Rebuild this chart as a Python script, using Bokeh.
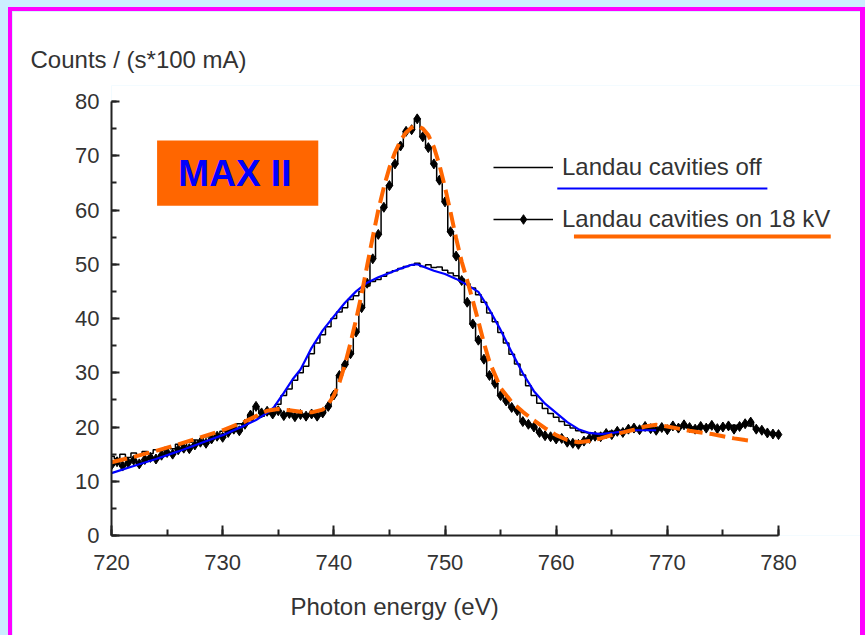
from bokeh.plotting import figure
from bokeh.models import (Range1d, BoxAnnotation, Label, Legend, LegendItem,
                          ColumnDataSource, SingleIntervalTicker, Title)
from bokeh.embed import file_html
from bokeh.resources import INLINE

# ---------------- data ----------------
energy = [720.0, 720.5, 721.0, 721.5, 722.0, 722.5, 723.0, 723.5, 724.0, 724.5,
          725.0, 725.5, 726.0, 726.5, 727.0, 727.5, 728.0, 728.5, 729.0, 729.5,
          730.0, 730.5, 731.0, 731.5, 732.0, 732.5, 733.0, 733.5, 734.0, 734.5,
          735.0, 735.5, 736.0, 736.5, 737.0, 737.5, 738.0, 738.5, 739.0, 739.5,
          740.0, 740.5, 741.0, 741.5, 742.0, 742.5, 743.0, 743.5, 744.0, 744.5,
          745.0, 745.5, 746.0, 746.5, 747.0, 747.5, 748.0, 748.5, 749.0, 749.5,
          750.0, 750.5, 751.0, 751.5, 752.0, 752.5, 753.0, 753.5, 754.0, 754.5,
          755.0, 755.5, 756.0, 756.5, 757.0, 757.5, 758.0, 758.5, 759.0, 759.5,
          760.0, 760.5, 761.0, 761.5, 762.0, 762.5, 763.0, 763.5, 764.0, 764.5,
          765.0, 765.5, 766.0, 766.5, 767.0, 767.5, 768.0, 768.5, 769.0, 769.5,
          770.0, 770.5, 771.0, 771.5, 772.0, 772.5, 773.0, 773.5, 774.0, 774.5,
          775.0, 775.5, 776.0, 776.5, 777.0, 777.5, 778.0, 778.5, 779.0, 779.5,
          780.0]

counts_off = [14.6, 14.2, 15.0, 14.4, 15.2, 14.8, 15.5, 15.1, 15.8, 15.6,
              16.2, 16.0, 16.8, 16.5, 17.2, 17.6, 17.4, 18.2, 18.6, 18.4,
              19.2, 19.6, 20.0, 20.6, 20.4, 21.2, 21.8, 22.0, 22.6, 23.2,
              24.2, 25.8, 27.0, 28.6, 30.0, 31.2, 33.5, 35.5, 37.0, 38.5,
              40.0, 41.2, 42.0, 43.5, 44.2, 45.0, 46.0, 46.8, 47.2, 47.8,
              48.5, 48.8, 49.2, 49.6, 49.8, 50.2, 49.6, 49.9, 49.4, 49.5,
              48.9, 48.4, 47.9, 47.3, 46.4, 45.6, 44.4, 43.0, 41.0, 39.4,
              37.4, 35.5, 33.4, 31.6, 29.6, 27.6, 25.8, 24.4, 23.4, 22.5,
              21.8, 21.0, 20.3, 19.8, 19.3, 19.0, 18.9, 18.6, 18.8, 19.0,
              19.2, 19.0, 19.4, 19.6, 19.3, 19.8, 19.5, 19.9, 19.6, 20.0,
              19.8, 20.2, 19.9, 20.3, 20.0, 19.7, 20.2, 19.9, 20.4, 19.8,
              20.1, 19.9, 20.3, 20.0, 20.5, 20.2, 19.8, 19.5, 19.1, 18.9,
              18.8]

counts_on = [13.0, 13.6, 12.8, 13.4, 13.9, 13.2, 14.0, 14.4, 14.1, 14.8,
             15.3, 15.0, 15.8, 16.1, 16.0, 16.7, 17.2, 17.0, 17.8, 18.3,
             18.1, 19.0, 19.6, 19.3, 20.5, 22.2, 23.8, 22.6, 22.9, 22.4,
             23.0, 22.1, 22.5, 21.9, 22.3, 22.0, 22.4, 22.0, 22.6, 23.8,
             25.9, 29.5, 31.5, 33.5, 37.5, 42.0, 46.5, 51.0, 55.5, 60.5,
             64.5, 68.5, 71.8, 74.5, 74.8, 76.8, 73.5, 71.5, 68.5, 65.5,
             61.5, 56.0, 51.5, 47.0, 43.0, 39.0, 36.0, 32.5, 29.5, 28.0,
             25.8, 24.8, 23.6, 23.0, 21.0, 20.5, 20.0, 19.0, 18.4, 18.2,
             17.8, 17.9, 17.2, 17.0, 16.8, 17.4, 17.9, 18.3, 18.2, 18.8,
             18.6, 19.2, 19.0, 19.6, 19.8, 19.5, 20.1, 19.7, 19.4, 19.9,
             19.5, 20.2, 19.8, 20.4, 19.9, 19.6, 20.1, 19.8, 20.3, 19.7,
             20.0, 20.2, 19.6, 20.1, 20.6, 20.9, 19.6, 19.4, 18.9, 18.7,
             18.6]

fit_off_e = [720, 722, 724, 726, 728, 730, 732, 733, 734, 734.6,
             735.5, 736.3, 737.0, 737.5, 738.0, 739, 740, 741, 742, 743,
             744, 745, 746, 747, 747.5, 748, 749, 750, 751, 752,
             753, 753.6, 754, 755, 756, 757, 758, 759, 760, 761,
             762, 763, 764, 765, 766, 767, 768, 769]
fit_off_c = [11.5, 12.8, 14.1, 15.5, 17.0, 18.5, 20.3, 21.3, 22.6, 23.6,
             26.3, 28.8, 30.6, 32.6, 34.6, 37.8, 40.4, 42.9, 45.0, 46.6,
             47.6, 48.4, 49.2, 49.9, 50.0, 49.6, 48.8, 48.2, 47.3, 46.2,
             44.9, 43.0, 41.6, 37.9, 33.8, 29.9, 26.6, 24.3, 22.6, 20.9,
             19.6, 18.9, 18.7, 18.9, 19.2, 19.4, 19.4, 19.4]

fit_on_e = [720, 722, 724, 726, 728, 730, 732, 733, 734, 735,
            736, 737, 738, 739, 739.5, 740, 740.5, 741, 741.5, 742,
            742.5, 743, 743.5, 744, 744.5, 745, 745.5, 746, 746.5, 747,
            747.5, 748, 748.5, 749, 749.5, 750, 750.5, 751, 751.5, 752,
            752.5, 753, 753.5, 754, 755, 756, 757, 758, 759, 760,
            761, 762, 763, 764, 765, 766, 767, 768, 769, 770,
            771, 772, 773, 774, 775, 776, 777, 777.7]
fit_on_c = [13.5, 14.5, 15.6, 16.8, 18.1, 19.4, 21.0, 22.0, 23.0, 23.3,
            23.1, 22.8, 22.7, 23.2, 24.2, 25.8, 28.2, 31.5, 35.5, 39.8,
            44.5, 49.8, 55.0, 60.0, 64.2, 67.8, 70.6, 72.8, 74.3, 75.2,
            75.5, 75.0, 73.8, 71.6, 68.3, 64.2, 59.6, 54.8, 50.5, 47.0,
            43.3, 39.5, 35.5, 32.0, 27.2, 24.6, 22.8, 21.2, 19.8, 18.5,
            17.6, 17.2, 17.4, 17.9, 18.5, 19.0, 19.5, 20.1, 20.4, 20.1,
            19.7, 19.3, 19.0, 18.7, 18.3, 17.9, 17.6, 17.4]

legend_labels = ["Landau cavities off", "Landau cavities on 18 kV"]
x_title = "Photon energy (eV)"
y_title = "Counts / (s*100 mA)"
badge = "MAX II"

# ---------------- figure ----------------
FONT = "Liberation Sans"
TXT = "#333333"

# axes cover 720-780 eV and 0-80 counts; the frame reaches further so that the
# legend and notes, which stick out past the axes, are not clipped
p = figure(frame_width=749, frame_height=450,
           min_border_left=99, min_border_right=0,
           min_border_top=74, min_border_bottom=100,
           x_range=Range1d(720, 720 + 60 * 749 / 667),
           y_range=Range1d(0, 80 * 450 / 434),
           output_backend="svg", toolbar_location=None,
           background_fill_color="white", border_fill_color="white")
p.outline_line_color = None
p.grid.visible = False
p.styles = {"margin-left": "8px", "margin-top": "7px",
            "border-top": "4px solid #ff00ff",
            "border-left": "4px solid #ff00ff",
            "border-right": "5px solid #ff00ff"}

p.xaxis.ticker = SingleIntervalTicker(interval=10, num_minor_ticks=2)
p.yaxis.ticker = SingleIntervalTicker(interval=10, num_minor_ticks=2)
p.xaxis.bounds = (720, 780)
p.yaxis.bounds = (0, 80)
for ax in (p.xaxis[0], p.yaxis[0]):
    ax.axis_line_color = "#222222"
    ax.axis_line_width = 2
    ax.major_tick_line_color = "#222222"
    ax.major_tick_line_width = 2
    ax.minor_tick_line_color = "#222222"
    ax.minor_tick_line_width = 2
    ax.major_tick_out = 0
    ax.minor_tick_out = 0
    ax.major_label_text_font = FONT
    ax.major_label_text_font_size = "22px"
    ax.major_label_text_color = TXT
p.xaxis.major_tick_in = 10
p.xaxis.minor_tick_in = 6
p.yaxis.major_tick_in = 8
p.yaxis.minor_tick_in = 5
p.xaxis.major_label_standoff = 19
p.yaxis.major_label_standoff = 12

# axis titles (as titles in the side panels, free to reach past the frame)
p.title.text = y_title
p.title.align = "left"
p.title.offset = -81
p.title.standoff = 25
p.title.text_font = FONT
p.title.text_font_size = "24px"
p.title.text_font_style = "normal"
p.title.text_color = TXT
p.add_layout(Title(text=x_title, align="left", offset=179, standoff=40,
                   vertical_align="top", text_font=FONT,
                   text_font_size="24px", text_font_style="normal",
                   text_color=TXT), "below")

# data curves
src_on = ColumnDataSource(dict(x=energy, y=counts_on))
src_off = ColumnDataSource(dict(x=energy, y=counts_off))
r_off = p.step("x", "y", source=src_off, mode="center", line_color="black",
               line_width=1.5)
r_on = p.step("x", "y", source=src_on, mode="center", line_color="black",
              line_width=1.5)
r_on_pts = p.scatter("x", "y", source=src_on, marker="diamond", size=10,
                     fill_color="black", line_color="black")
p.line(fit_off_e, fit_off_c, line_color="#0000ff", line_width=2.2)
p.line(fit_on_e, fit_on_c, line_color="#ff6600", line_width=4,
       line_dash="16 7")

legend = Legend(items=[LegendItem(label=legend_labels[0], renderers=[r_off]),
                       LegendItem(label=legend_labels[1],
                                  renderers=[r_on, r_on_pts])],
                location=(382, 302), margin=0, padding=0,
                glyph_width=60, glyph_height=24, label_height=24,
                spacing=24, label_standoff=9,
                label_text_font=FONT, label_text_font_size="24px",
                label_text_color=TXT,
                background_fill_alpha=0, border_line_color=None)
p.add_layout(legend, "center")

# underlines of the legend entries
p.add_layout(BoxAnnotation(left=760.1, right=779.0, bottom=63.78, top=64.15,
                           fill_color="#0000ff", fill_alpha=1, line_color=None))
p.add_layout(BoxAnnotation(left=761.6, right=784.7, bottom=54.75, top=55.5,
                           fill_color="#ff6600", fill_alpha=1, line_color=None))

# MAX II badge
p.add_layout(BoxAnnotation(left=724.1, right=738.6, bottom=60.8, top=72.8,
                           fill_color="#ff6600", fill_alpha=1, line_color=None))
p.add_layout(Label(x=731.1, y=66.7, text=badge, text_align="center",
                   text_baseline="middle", text_font=FONT,
                   text_font_size="37px", text_font_style="bold",
                   text_color="#0000ff"))

html = file_html(p, INLINE, title="MAX II")
html = html.replace("</head>",
                    "<style>html, body {background-color: #cceeff;}</style></head>", 1)
open("out.html", "w").write(html)
